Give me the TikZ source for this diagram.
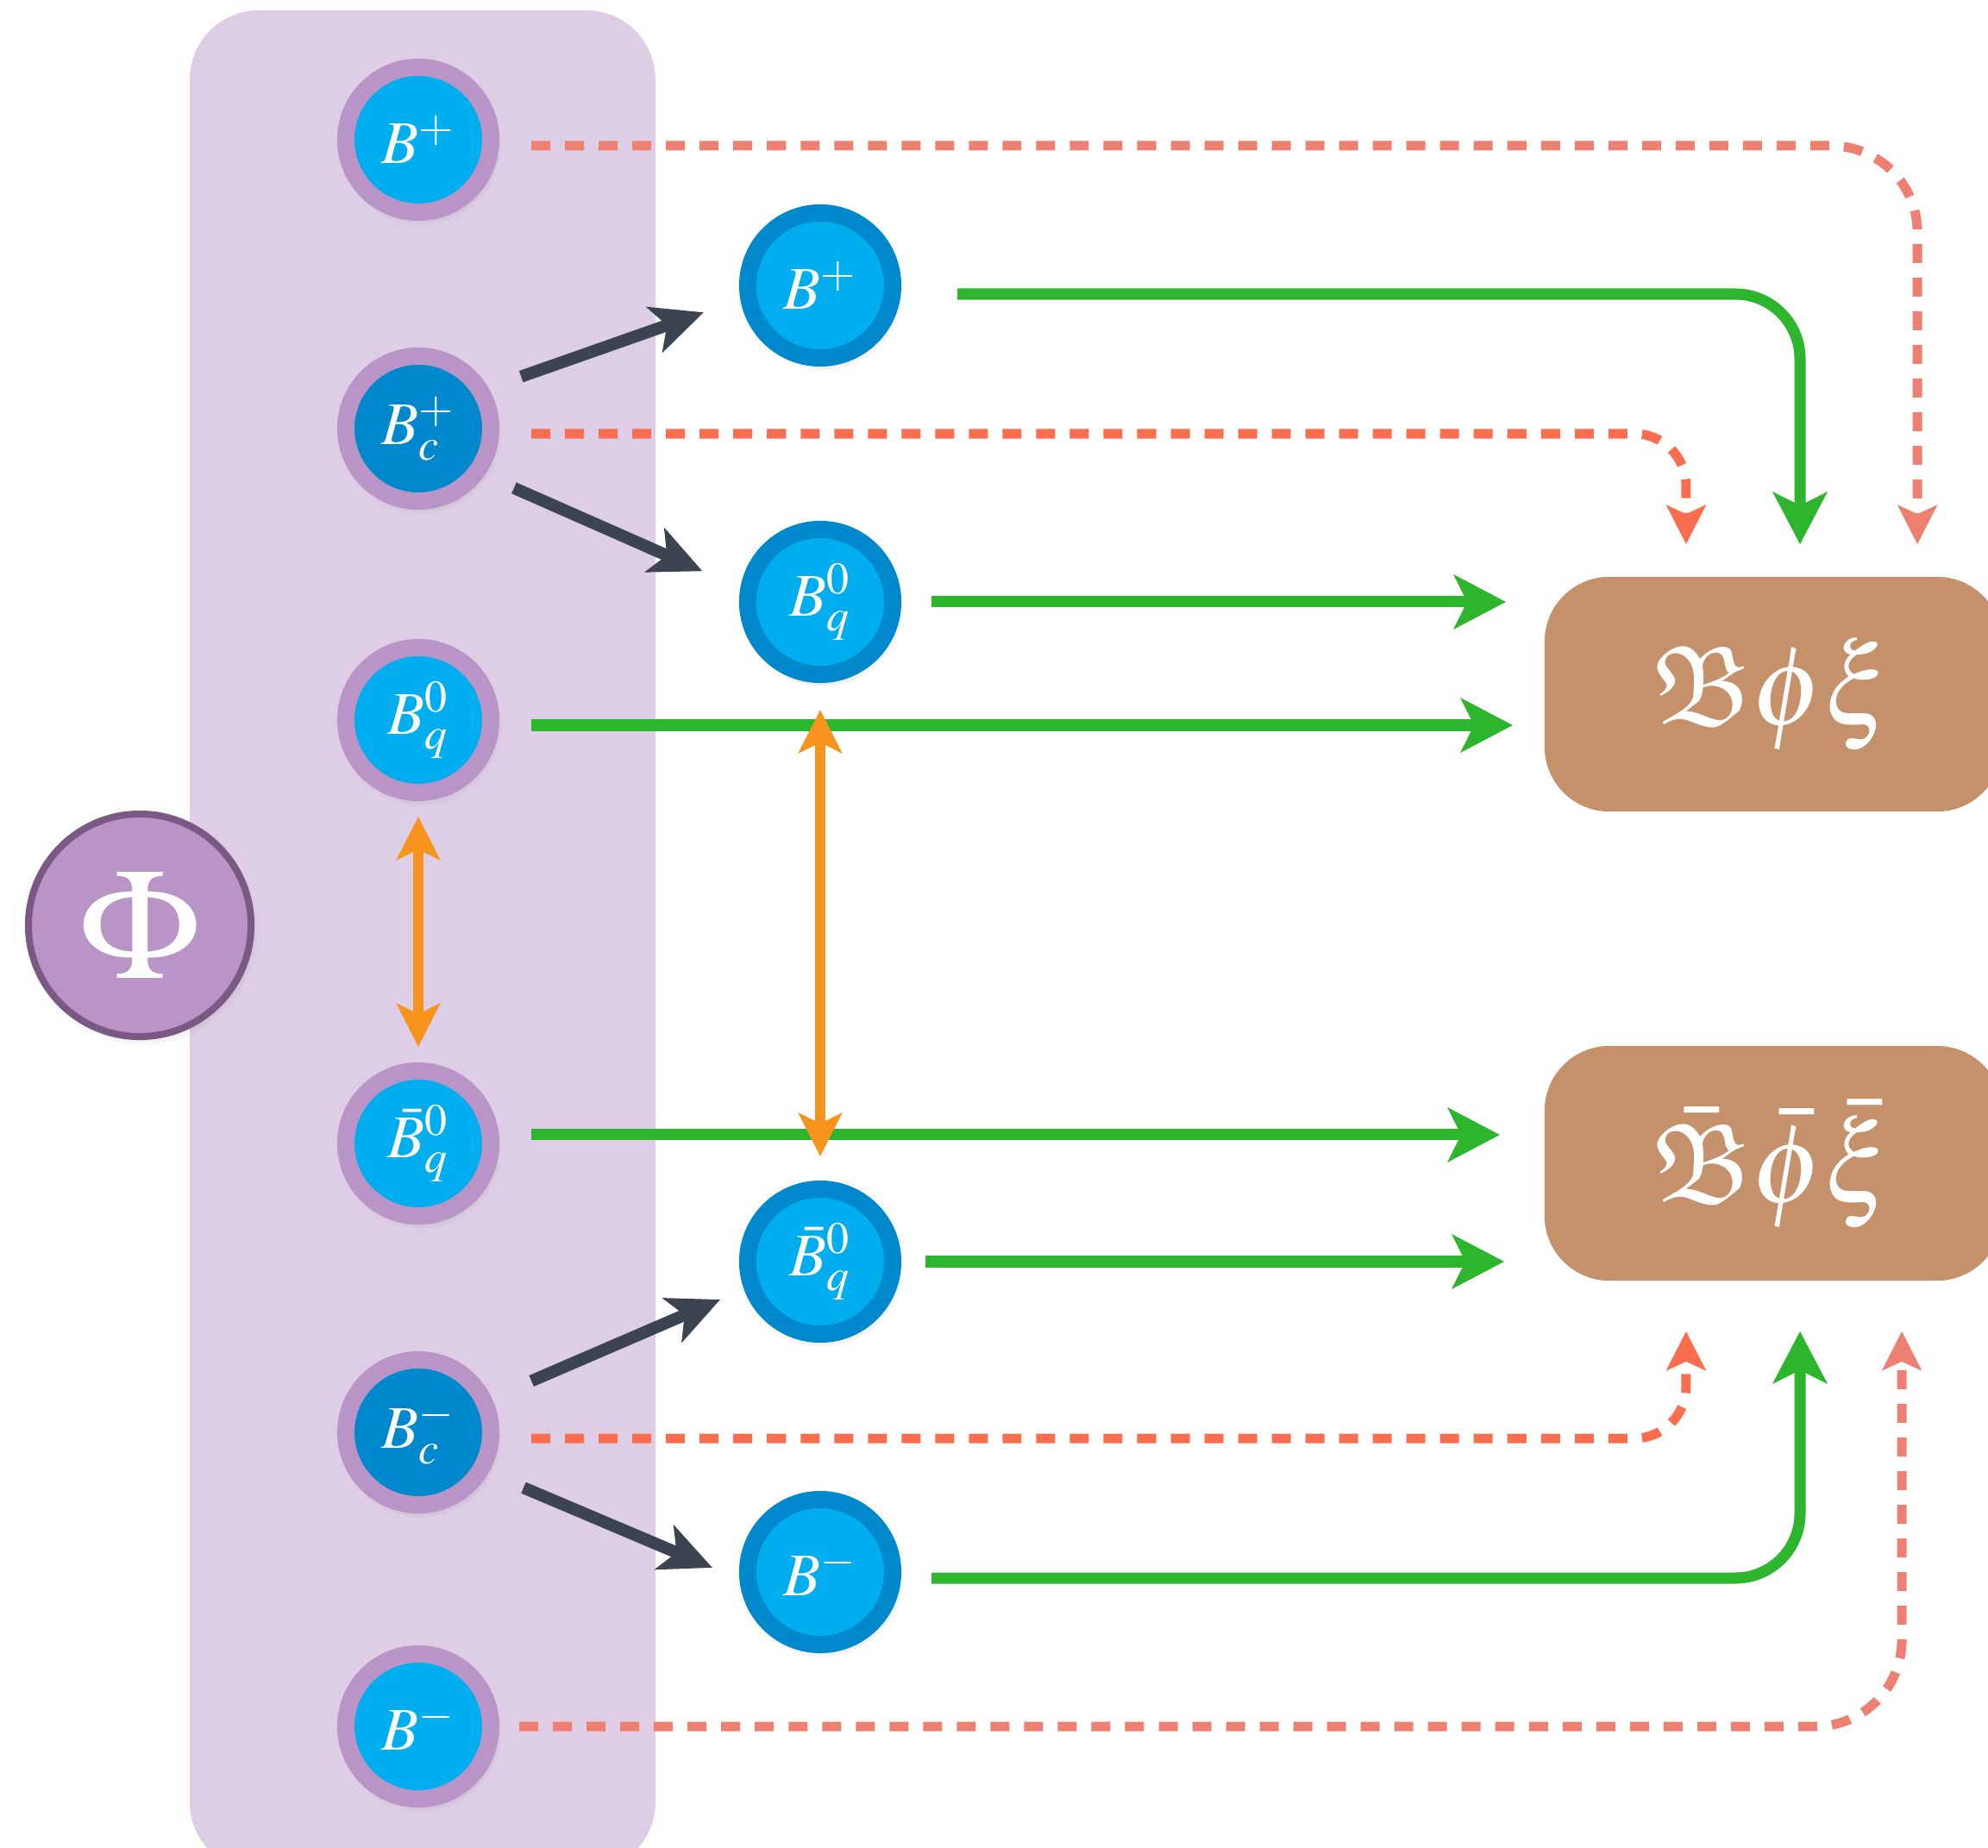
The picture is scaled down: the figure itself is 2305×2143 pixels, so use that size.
\documentclass[tikz,border=0pt]{standalone}
\usepackage{amsmath,amssymb}
\usepackage{mathptmx}
\usepackage{graphicx}
\usepackage{tikz}
\usetikzlibrary{arrows.meta,shadows}
\definecolor{panel}{HTML}{DDCEE5}
\definecolor{ring}{HTML}{B894C7}
\definecolor{phiedge}{HTML}{7A5A84}
\definecolor{sky}{HTML}{00AEEF}
\definecolor{deep}{HTML}{0088CC}
\definecolor{tan}{HTML}{C4916A}
\definecolor{flowc}{HTML}{2DB52D}
\definecolor{mixc}{HTML}{F7941D}
\definecolor{decayc}{HTML}{3C4452}
\definecolor{tagA}{HTML}{FA6E4F}
\definecolor{tagB}{HTML}{EE8072}
\tikzset{
  meson/.style={circle,draw=ring,fill=sky,line width=0.2cm,minimum size=1.68cm,
    inner sep=0pt,outer sep=0.1cm,text=white,font=\fontsize{20}{24}\selectfont,
    circular drop shadow={shadow scale=1.12,shadow xshift=0.02cm,shadow yshift=-0.05cm,opacity=0.3}},
  cmeson/.style={meson,fill=deep},
  mmeson/.style={meson,draw=deep},
  parent/.style={circle,draw=phiedge,fill=ring,line width=0.08cm,minimum size=2.58cm,
    inner sep=0pt,outer sep=0.04cm,text=white,font=\fontsize{52}{60}\selectfont,
    circular drop shadow={shadow scale=1.04,shadow xshift=0.03cm,shadow yshift=-0.06cm,opacity=0.3}},
  final/.style={rectangle,rounded corners=0.75cm,fill=tan,minimum width=5.3cm,
    minimum height=2.72cm,text=white,font=\fontsize{24.88}{30}\selectfont},
  flow/.style={flowc,line width=0.13cm,-{Stealth[length=0.6cm,width=0.62cm,inset=0.15cm]}},
  tag/.style={line width=0.11cm,dash pattern=on 0.22cm off 0.17cm,
    -{Stealth[length=0.45cm,width=0.45cm,inset=0.1cm]}},
  mix/.style={mixc,line width=0.12cm,
    {Stealth[length=0.5cm,width=0.5cm,inset=0.12cm]}-{Stealth[length=0.5cm,width=0.5cm,inset=0.12cm]}},
  decay/.style={decayc,line width=0.14cm,-{Stealth[length=0.6cm,width=0.55cm,inset=0.15cm]}},
}

\begin{document}
\begin{tikzpicture}[x=0.01cm,y=-0.01cm]
  \useasboundingbox (0,0) rectangle (2305,2143);
  % ---------- initial state panel ----------
  \begin{scope}
    \clip (0,0) rectangle (2305,2143);
    \fill[panel,rounded corners=0.8cm] (220,12) rectangle (760,2170);
  \end{scope}
  \node[parent] (phi) at (162,1073) {$\Phi$};
  \node[meson]  (lBp)  at (485,162)  {$B^+$};
  \node[cmeson] (lBc)  at (485,497)  {$B_c^+$};
  \node[meson]  (lBq)  at (485,835)  {$B_q^0$};
  \node[meson]  (lBb)  at (485,1326) {$\bar{B}_q^0$};
  \node[cmeson] (lBcm) at (485,1661) {$B_c^-$};
  \node[meson]  (lBm)  at (485,2002) {$B^-$};
  % ---------- daughters of B_c ----------
  \node[mmeson] (mBp) at (951,331)  {$B^+$};
  \node[mmeson] (mBq) at (951,698)  {$B_q^0$};
  \node[mmeson] (mBb) at (951,1463) {$\bar{B}_q^0$};
  \node[mmeson] (mBm) at (951,1823) {$B^-$};
  % ---------- final states ----------
  \begin{scope}
    \clip (0,0) rectangle (2305,2143);
    \node[final] (fA) at (2056,805)  {\scalebox{1.5}{$\mathfrak{B}\phi\xi$}};
    \node[final] (fB) at (2056,1349) {\scalebox{1.5}{$\bar{\mathfrak{B}}\bar{\phi}\bar{\xi}$}};
  \end{scope}
  % ---------- tagged (dashed) paths ----------
  \draw[tag,tagB,rounded corners=1cm,shorten <=0.37cm,shorten >=0.37cm]
    ([yshift=-0.07cm]lBp.east) -| ([xshift=1.67cm]fA.north);
  \draw[tag,tagA,rounded corners=0.6cm,shorten <=0.37cm,shorten >=0.37cm]
    ([yshift=-0.06cm]lBc.east) -| ([xshift=-1.01cm]fA.north);
  \draw[tag,tagA,rounded corners=0.6cm,shorten <=0.37cm,shorten >=0.58cm]
    ([yshift=-0.07cm]lBcm.east) -| ([xshift=-1.01cm]fB.south);
  \draw[tag,tagB,rounded corners=1cm,shorten <=0.23cm,shorten >=0.58cm]
    (lBm.east) -| ([xshift=1.49cm]fB.south);
  % ---------- decays to final states ----------
  \draw[flow,rounded corners=0.75cm,shorten <=0.65cm,shorten >=0.37cm]
    ([yshift=-0.1cm]mBp.east) -| ([xshift=0.31cm]fA.north);
  \draw[flow,rounded corners=0.75cm,shorten <=0.35cm,shorten >=0.58cm]
    ([yshift=-0.07cm]mBm.east) -| ([xshift=0.31cm]fB.south);
  \draw[flow,shorten <=0.35cm,shorten >=0.44cm] (mBq.east) -- (mBq.east -| fA.west);
  \draw[flow,shorten <=0.37cm,shorten >=0.36cm]
    ([yshift=-0.06cm]lBq.east) -- ([yshift=-0.06cm]lBq.east -| fA.west);
  \draw[flow,shorten <=0.37cm,shorten >=0.51cm]
    ([yshift=0.1cm]lBb.east) -- ([yshift=0.1cm]lBb.east -| fB.west);
  \draw[flow,shorten <=0.28cm,shorten >=0.46cm] (mBb.east) -- (mBb.east -| fB.west);
  % ---------- B_c decays ----------
  \draw[decay,shorten <=0.4cm,shorten >=0.45cm] (lBc.30) -- (mBp.190);
  \draw[decay,shorten <=0.37cm,shorten >=0.48cm] (lBc.-35) -- (mBq.170);
  \draw[decay,shorten <=0.5cm,shorten >=0.3cm] (lBcm.25) -- (mBb.200);
  \draw[decay,shorten <=0.44cm,shorten >=0.34cm] (lBcm.-30) -- (mBm.185);
  % ---------- mixing ----------
  \draw[mix,shorten <=0.18cm,shorten >=0.18cm] (lBq.south) -- (lBb.north);
  \draw[mix,shorten <=0.31cm,shorten >=0.28cm] (mBq.south) -- (mBb.north);
\end{tikzpicture}
\end{document}
